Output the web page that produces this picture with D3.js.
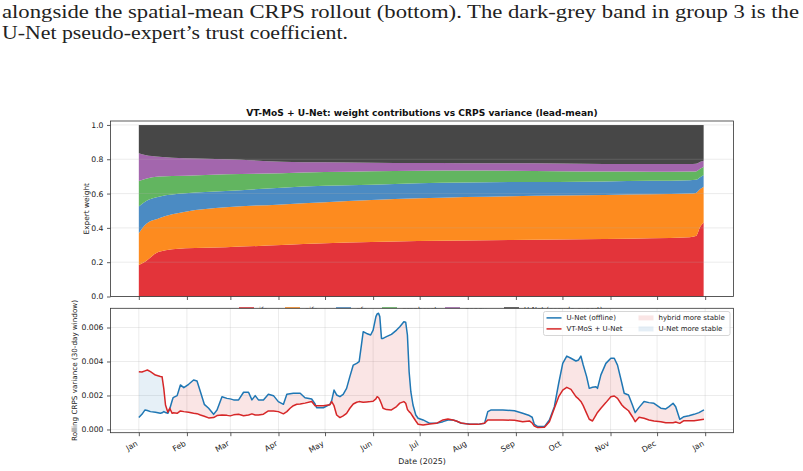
<!DOCTYPE html>
<html>
<head>
<meta charset="utf-8">
<script src="https://cdn.jsdelivr.net/npm/d3@7"></script>
<style>
body { margin: 0; background: #fff; }
text { font-family: "DejaVu Sans", sans-serif; }
</style>
</head>
<body>
<script>
// ---- data ----
// stacked expert weights (day of 2025)
var weightDays = [0, 4, 13, 30, 56, 92, 120, 150, 180, 210, 240, 270, 300, 330, 355, 359, 362, 364];
var wIfs    = [.184, .203, .261, .281, .287, .300, .310, .318, .323, .327, .330, .332, .335, .340, .346, .352, .410, .432];
var wAifs   = [.184, .214, .195, .213, .233, .237, .240, .244, .249, .253, .255, .257, .257, .256, .254, .252, .218, .208];
var wGfs    = [.156, .136, .126, .108, .095, .097, .095, .090, .088, .084, .082, .079, .078, .078, .078, .076, .069, .068];
var wGraph  = [.149, .132, .117, .102, .097, .084, .080, .078, .073, .071, .066, .062, .058, .053, .050, .049, .049, .049];
var wPangu  = [.162, .140, .116, .102, .088, .068, .057, .050, .045, .042, .043, .045, .045, .046, .045, .045, .039, .035];
var wUnet   = [.165, .175, .185, .194, .200, .214, .218, .220, .222, .223, .224, .225, .227, .227, .227, .226, .215, .208];
var expertNames = ['ifs', 'aifs', 'gfs', 'graphcast', 'pangu', 'U-Net (pseudo-expert)'];
var expertColors = ['#e3343a', '#fd8b1f', '#4b8bc3', '#62b560', '#a366ad', '#474747'];

// rolling CRPS variance (day of 2025)
var varDays = [0, 2, 4, 5.5, 7.5, 10.7, 13.9, 15, 16.1, 17.2, 18.7, 19.9, 21.5, 22.1, 24.7, 26.8, 29, 32.1, 35.3, 37.5,
  39.7, 42.2, 45, 48.2, 50.4, 53.6, 56.8, 58.9, 61.1, 64.3, 67.5, 70.7, 72.9, 75, 77.1, 80.3, 83.5, 86.8, 89.9, 93.2,
  95.4, 97.5, 99.6, 101.8, 104, 107.1, 111.4, 113.6, 114.6, 118.9, 123.2, 124.3, 125.8, 127.5, 129.6, 131.7, 133.9, 136, 138.2, 140.4,
  142, 143.6, 144.6, 146.8, 149.4, 151, 152.8, 153.6, 154.5, 155.3, 156.4, 157.4, 159.6, 162.8, 166.1, 168.2, 170.8, 172, 173.1, 174.2,
  175.3, 176.7, 178.5, 180, 183.2, 187.5, 191.8, 196, 199.2, 202.4, 204.6, 207.8, 213.2, 218.5, 222.8, 224.9, 227.1, 234.6, 242.1, 247.4,
  251.7, 253.5, 254.9, 257.1, 261.4, 264.6, 267.8, 270.6, 273.2, 275.8, 278.5, 281.7, 283.4, 284.9, 286.4, 288.6, 290.3, 292.4, 294.6, 295.6,
  297.8, 301, 304.2, 306.4, 308.5, 311.3, 312.8, 315.6, 318.1, 319.9, 322.4, 325.6, 328.8, 332, 336.4, 339.6, 341.7, 344.3, 346, 348.6,
  351.3, 354.5, 357.8, 361, 364.2];
var unetVar = [.00070, .00089, .00115, .00112, .00105, .00101, .00095, .00098, .00105, .00100, .00095, .00120, .00170, .00187, .00199, .00262, .00246, .00266, .00291, .00285,
  .00222, .00148, .00125, .00089, .00115, .00193, .00183, .00180, .00174, .00174, .00219, .00219, .00174, .00199, .00174, .00174, .00207, .00199, .00164, .00148,
  .00207, .00210, .00213, .00213, .00213, .00187, .00179, .00150, .00128, .00128, .00148, .00170, .00232, .00203, .00193, .00207, .00242, .00311, .00379, .00389,
  .00399, .00507, .00575, .00565, .00556, .00585, .00664, .00680, .00684, .00664, .00536, .00536, .00546, .00560, .00585, .00605, .00634, .00631, .00556, .00340,
  .00222, .00144, .00085, .00066, .00056, .00036, .00036, .00046, .00056, .00056, .00050, .00036, .00032, .00030, .00036, .00105, .00115, .00115, .00110, .00095,
  .00082, .00072, .00030, .00017, .00017, .00056, .00134, .00272, .00389, .00432, .00419, .00403, .00409, .00432, .00379, .00311, .00242, .00248, .00252, .00242,
  .00321, .00389, .00419, .00419, .00379, .00272, .00213, .00203, .00144, .00099, .00130, .00164, .00158, .00154, .00125, .00121, .00134, .00154, .00134, .00060,
  .00075, .00081, .00089, .00099, .00115];
var hybridVar = [.00340, .00338, .00345, .00350, .00340, .00320, .00312, .00310, .00240, .00144, .00101, .00125, .00095, .00098, .00095, .00109, .00105, .00101, .00095, .00093,
  .00085, .00078, .00068, .00070, .00082, .00085, .00083, .00080, .00086, .00089, .00081, .00085, .00092, .00085, .00085, .00090, .00109, .00109, .00105, .00092,
  .00105, .00125, .00140, .00148, .00150, .00155, .00164, .00140, .00140, .00140, .00146, .00164, .00140, .00085, .00070, .00080, .00095, .00125, .00150, .00160,
  .00164, .00162, .00160, .00162, .00164, .00166, .00180, .00193, .00188, .00174, .00150, .00125, .00117, .00115, .00135, .00155, .00164, .00154, .00118, .00105,
  .00095, .00075, .00050, .00031, .00026, .00032, .00036, .00056, .00062, .00056, .00050, .00038, .00030, .00030, .00036, .00056, .00056, .00056, .00054, .00046,
  .00050, .00038, .00020, .00011, .00013, .00046, .00125, .00193, .00232, .00248, .00236, .00193, .00180, .00165, .00140, .00095, .00060, .00050, .00085, .00100,
  .00125, .00158, .00193, .00197, .00183, .00144, .00130, .00110, .00075, .00046, .00072, .00066, .00056, .00050, .00046, .00040, .00040, .00040, .00044, .00036,
  .00052, .00052, .00052, .00056, .00060];

var weightTicks = [0, 0.2, 0.4, 0.6, 0.8, 1.0];
var varTicks = [0, 0.002, 0.004, 0.006];

var caption1 = 'alongside the spatial-mean CRPS rollout (bottom). The dark-grey band in group 3 is the';
var caption2 = 'U-Net pseudo-expert\u2019s trust coefficient.';

// ---- layout ----
var width = 803, height = 471;
var left = 110.5, right = 733.5;
var top1 = 121, bot1 = 296.5;
var top2 = 308.3, bot2 = 432.7;

var svg = d3.select('body').append('svg')
  .attr('width', width)
  .attr('height', height);

// caption from the document
svg.append('text')
  .attr('x', 2).attr('y', 18)
  .style('font-family', '"Liberation Serif", serif')
  .attr('font-size', 19.5)
  .attr('textLength', 797).attr('lengthAdjust', 'spacingAndGlyphs')
  .attr('fill', '#222')
  .text(caption1);
svg.append('text')
  .attr('x', 2).attr('y', 39)
  .style('font-family', '"Liberation Serif", serif')
  .attr('font-size', 19.5)
  .attr('textLength', 346).attr('lengthAdjust', 'spacingAndGlyphs')
  .attr('fill', '#222')
  .text(caption2);

//scales
var start = new Date(Date.UTC(2025, 0, 1));
var end = new Date(Date.UTC(2026, 0, 1));
var pad = 18.25 * 864e5;
var toDate = function(d) { return new Date(start.getTime() + d * 864e5); };
var months = d3.utcMonth.range(start, new Date(end.getTime() + 864e5));

var xScale = d3.scaleUtc()
  .domain([new Date(start.getTime() - pad), new Date(end.getTime() + pad)])
  .range([left, right]);
var yTop = d3.scaleLinear().domain([0, 1.023]).range([bot1, top1]);
var yBot = d3.scaleLinear().domain([-0.00019, 0.00713]).range([bot2, top2]);

// ---- top panel: stacked weights ----
var weightRows = weightDays.map(function(d, i) {
  return { date: toDate(d), e0: wIfs[i], e1: wAifs[i], e2: wGfs[i], e3: wGraph[i], e4: wPangu[i], e5: wUnet[i] };
});
var keys = ['e0', 'e1', 'e2', 'e3', 'e4', 'e5'];
var stacked = d3.stack().keys(keys)(weightRows);

var g1 = svg.append('g');
g1.selectAll('path.layer')
  .data(stacked)
  .enter().append('path')
  .attr('class', 'layer')
  .attr('fill', function(d, i) { return expertColors[i]; })
  .attr('d', d3.area()
    .curve(d3.curveMonotoneX)
    .x(function(d) { return xScale(d.data.date); })
    .y0(function(d) { return yTop(d[0]); })
    .y1(function(d) { return yTop(d[1]); }));

// horizontal grid on top of the areas
g1.selectAll('line.grid')
  .data(weightTicks)
  .enter().append('line')
  .attr('x1', left).attr('x2', right)
  .attr('y1', function(d) { return yTop(d); })
  .attr('y2', function(d) { return yTop(d); })
  .attr('stroke', '#b0b0b0').attr('stroke-opacity', 0.3).attr('stroke-width', 0.8);

//axis
var ax1 = g1.append('g')
  .attr('transform', 'translate(' + left + ',0)')
  .call(d3.axisLeft(yTop).tickValues(weightTicks).tickFormat(d3.format('.1f')).tickSize(3.5).tickPadding(3.5));
var ax1x = g1.append('g')
  .attr('transform', 'translate(0,' + bot1 + ')')
  .call(d3.axisBottom(xScale).tickValues(months).tickFormat('').tickSize(3.5));

g1.append('rect')
  .attr('x', left).attr('y', top1)
  .attr('width', right - left).attr('height', bot1 - top1)
  .attr('fill', 'none').attr('stroke', '#333').attr('stroke-width', 0.8);

g1.append('text')
  .text('VT-MoS + U-Net: weight contributions vs CRPS variance (lead-mean)')
  .attr('x', (left + right) / 2).attr('y', 115.5)
  .attr('text-anchor', 'middle')
  .attr('font-size', 9.1).attr('font-weight', 'bold')
  .attr('fill', '#111');

g1.append('text')
  .text('Expert weight')
  .attr('transform', 'translate(89,' + ((top1 + bot1) / 2) + ') rotate(-90)')
  .attr('text-anchor', 'middle')
  .attr('font-size', 7.4).attr('fill', '#222');

//legend under top panel (mostly hidden by the lower panel)
var legX = [239, 285, 336, 382, 445, 504];
var leg1 = g1.selectAll('g.leg1')
  .data(expertNames)
  .enter().append('g')
  .attr('transform', function(d, i) { return 'translate(' + legX[i] + ',307.2)'; });
leg1.append('rect')
  .attr('width', 15).attr('height', 5)
  .attr('fill', function(d, i) { return expertColors[i]; });
leg1.append('text')
  .text(function(d) { return d; })
  .attr('x', 20).attr('y', 5)
  .attr('font-size', 7).attr('fill', '#222');

// ---- bottom panel: rolling CRPS variance ----
var varRows = varDays.map(function(d, i) {
  return { date: toDate(d), unet: unetVar[i], hybrid: hybridVar[i] };
});

var g2 = svg.append('g');
g2.append('rect')
  .attr('x', left).attr('y', top2)
  .attr('width', right - left).attr('height', bot2 - top2)
  .attr('fill', '#fff');

// grid
g2.selectAll('line.gy')
  .data(varTicks)
  .enter().append('line')
  .attr('x1', left).attr('x2', right)
  .attr('y1', function(d) { return yBot(d); })
  .attr('y2', function(d) { return yBot(d); })
  .attr('stroke', '#b0b0b0').attr('stroke-opacity', 0.3).attr('stroke-width', 0.8);
g2.selectAll('line.gx')
  .data(months)
  .enter().append('line')
  .attr('y1', top2).attr('y2', bot2)
  .attr('x1', function(d) { return xScale(d); })
  .attr('x2', function(d) { return xScale(d); })
  .attr('stroke', '#b0b0b0').attr('stroke-opacity', 0.3).attr('stroke-width', 0.8);

// fills between the two curves
var defs = svg.append('defs');
defs.append('clipPath').attr('id', 'aboveHybrid')
  .append('path')
  .datum(varRows)
  .attr('d', d3.area()
    .x(function(d) { return xScale(d.date); })
    .y0(function(d) { return yBot(d.hybrid); })
    .y1(top2));
defs.append('clipPath').attr('id', 'belowHybrid')
  .append('path')
  .datum(varRows)
  .attr('d', d3.area()
    .x(function(d) { return xScale(d.date); })
    .y0(function(d) { return yBot(d.hybrid); })
    .y1(bot2));

var between = d3.area()
  .x(function(d) { return xScale(d.date); })
  .y0(function(d) { return yBot(d.hybrid); })
  .y1(function(d) { return yBot(d.unet); });

g2.append('path')
  .datum(varRows)
  .attr('d', between)
  .attr('clip-path', 'url(#aboveHybrid)')
  .attr('fill', '#d62728').attr('fill-opacity', 0.12);
g2.append('path')
  .datum(varRows)
  .attr('d', between)
  .attr('clip-path', 'url(#belowHybrid)')
  .attr('fill', '#1f77b4').attr('fill-opacity', 0.11);

//lines
g2.append('path')
  .datum(varRows)
  .attr('fill', 'none').attr('stroke', '#1f77b4').attr('stroke-width', 1.5)
  .attr('stroke-linejoin', 'round')
  .attr('d', d3.line()
    .x(function(d) { return xScale(d.date); })
    .y(function(d) { return yBot(d.unet); }));
g2.append('path')
  .datum(varRows)
  .attr('fill', 'none').attr('stroke', '#d62728').attr('stroke-width', 1.5)
  .attr('stroke-linejoin', 'round')
  .attr('d', d3.line()
    .x(function(d) { return xScale(d.date); })
    .y(function(d) { return yBot(d.hybrid); }));

//axis
var ax2 = g2.append('g')
  .attr('transform', 'translate(' + left + ',0)')
  .call(d3.axisLeft(yBot).tickValues(varTicks).tickFormat(d3.format('.3f')).tickSize(3.5).tickPadding(3.5));
var ax2x = g2.append('g')
  .attr('transform', 'translate(0,' + bot2 + ')')
  .call(d3.axisBottom(xScale).tickValues(months).tickFormat(d3.utcFormat('%b')).tickSize(3.5));
ax2x.selectAll('.tick text')
  .attr('y', null).attr('dy', null)
  .attr('text-anchor', 'end')
  .attr('transform', 'translate(-1,12.3) rotate(-30)');

g2.append('rect')
  .attr('x', left).attr('y', top2)
  .attr('width', right - left).attr('height', bot2 - top2)
  .attr('fill', 'none').attr('stroke', '#333').attr('stroke-width', 0.8);

g2.append('text')
  .text('Date (2025)')
  .attr('x', (left + right) / 2).attr('y', 464)
  .attr('text-anchor', 'middle')
  .attr('font-size', 7.9).attr('fill', '#222');

g2.append('text')
  .text('Rolling CRPS variance (30-day window)')
  .attr('transform', 'translate(77,' + ((top2 + bot2) / 2) + ') rotate(-90)')
  .attr('text-anchor', 'middle')
  .attr('font-size', 7.2).attr('fill', '#222');

// axis styling
[ax1, ax1x, ax2, ax2x].forEach(function(a) {
  a.select('.domain').remove();
  a.selectAll('.tick line').attr('stroke', '#333').attr('stroke-width', 0.8);
  a.selectAll('.tick text')
    .style('font-family', '"DejaVu Sans", sans-serif')
    .attr('font-size', 7.7).attr('fill', '#222');
});

//legend in lower panel
var leg2 = g2.append('g').attr('transform', 'translate(543.5,311.5)');
leg2.append('rect')
  .attr('width', 186.5).attr('height', 24)
  .attr('rx', 2)
  .attr('fill', '#fff').attr('fill-opacity', 0.8)
  .attr('stroke', '#ccc').attr('stroke-width', 0.8);

var lineItems = [{ label: 'U-Net (offline)', color: '#1f77b4' }, { label: 'VT-MoS + U-Net', color: '#d62728' }];
var patchItems = [{ label: 'hybrid more stable', color: '#d62728' }, { label: 'U-Net more stable', color: '#1f77b4' }];

lineItems.forEach(function(d, i) {
  var yy = 6.4 + i * 11;
  leg2.append('line')
    .attr('x1', 3).attr('x2', 18).attr('y1', yy).attr('y2', yy)
    .attr('stroke', d.color).attr('stroke-width', 1.5);
  leg2.append('text')
    .text(d.label)
    .attr('x', 23).attr('y', yy + 2.5)
    .attr('font-size', 7).attr('fill', '#222');
});
patchItems.forEach(function(d, i) {
  var yy = 6.4 + i * 11;
  leg2.append('rect')
    .attr('x', 95).attr('y', yy - 2.5)
    .attr('width', 15).attr('height', 5)
    .attr('fill', d.color).attr('fill-opacity', 0.12);
  leg2.append('text')
    .text(d.label)
    .attr('x', 115).attr('y', yy + 2.5)
    .attr('font-size', 7).attr('fill', '#222');
});
</script>
</body>
</html>
